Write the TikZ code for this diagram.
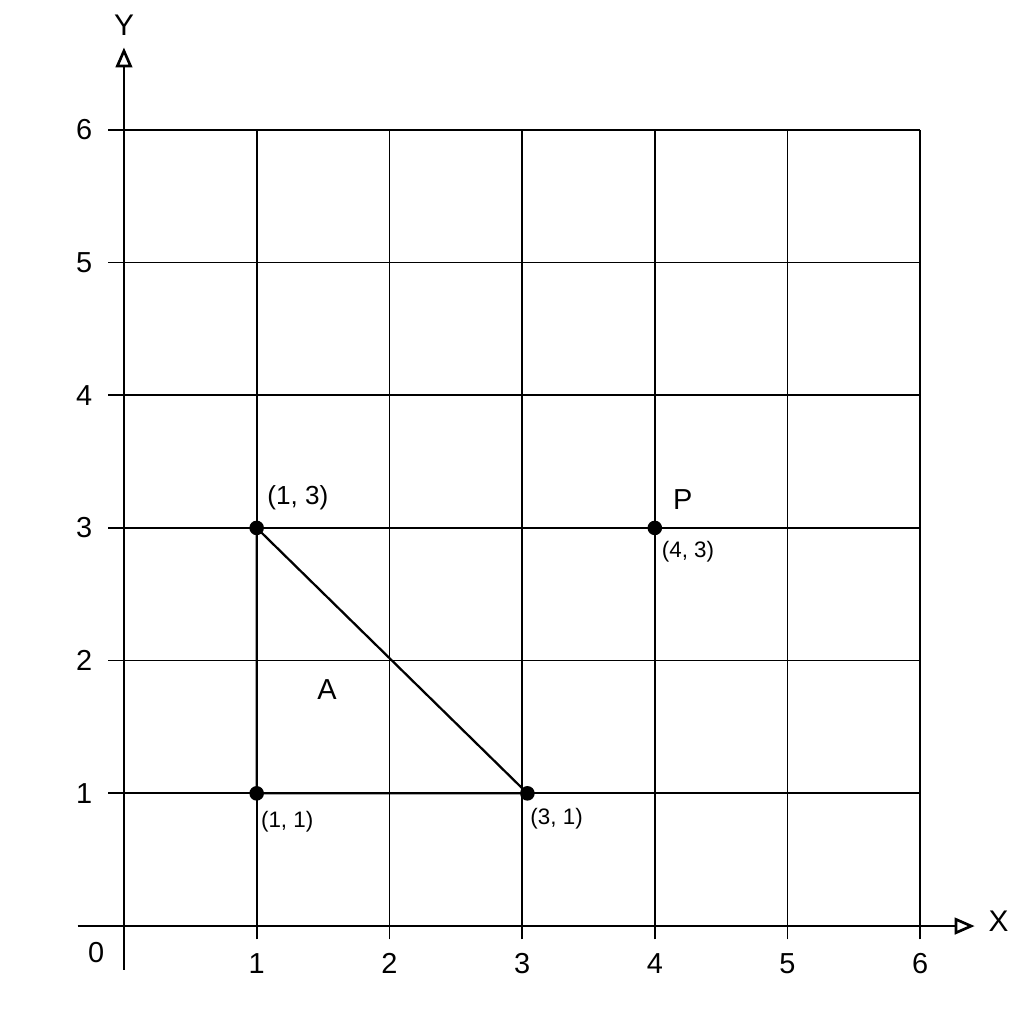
\documentclass[tikz,border=0pt]{standalone}
\usepackage{fontspec}
\setmainfont{Liberation Sans}
\usetikzlibrary{arrows.meta}
\newcommand{\tick}{\fontsize{6.2}{7}\selectfont}
\newcommand{\lbl}{\fontsize{5.6}{6}\selectfont}
\newcommand{\lbls}{\fontsize{4.8}{5}\selectfont}

\begin{document}
\begin{tikzpicture}[dot/.style={circle, fill, inner sep=0pt, minimum size=1.1mm},
			gridline/.style={line width=0.13mm},
			axis/.style={line width=0.2mm, -{Triangle[open, length=1.5mm, width=1.25mm]}}]
			\useasboundingbox (-0.934,-0.738) rectangle (6.782,6.978);
			\foreach \i in {1,...,6} {
				\draw[gridline] (-0.12,\i) -- (6,\i);
				\draw[gridline] (\i,-0.1) -- (\i,6);
				\node at (\i,-0.28) {\tick \i};
				\node at (-0.3,\i) {\tick \i};
			}
			\coordinate (xs) at (-0.35,0);
			\coordinate (xe) at (6.41,0);
			\coordinate (ys) at (0,-0.33);
			\coordinate (ye) at (0,6.62);
			\draw[axis] (xs) -- (xe);
			\draw[axis] (ys) -- (ye);
			\node (xl) at (6.59,0.04) {\fontsize{6.4}{7}\selectfont X};
			\node (yl) at (0,6.79) {\fontsize{6.4}{7}\selectfont Y};
			\node (o) at (-0.21,-0.2) {\tick 0};
			\node[dot] (a) at (1,3) {};
			\node[dot] (b) at (1,1) {};
			\node[dot] (c) at (3.04,1) {};
			\node[dot] (p) at (4,3) {};
			\draw[line width=0.17mm] (a.center) -- (b.center) -- (c.center) -- cycle;
			\node at (1.31,3.23) {\lbl (1, 3)};
			\node at (1.23,0.79) {\lbls (1, 1)};
			\node at (3.26,0.81) {\lbls (3, 1)};
			\node at (4.25,2.82) {\lbls (4, 3)};
			\node at (4.21,3.21) {\fontsize{6.2}{7}\selectfont P};
			\node at (1.53,1.78) {\fontsize{6.2}{7}\selectfont A};
			\end{tikzpicture}
\end{document}
